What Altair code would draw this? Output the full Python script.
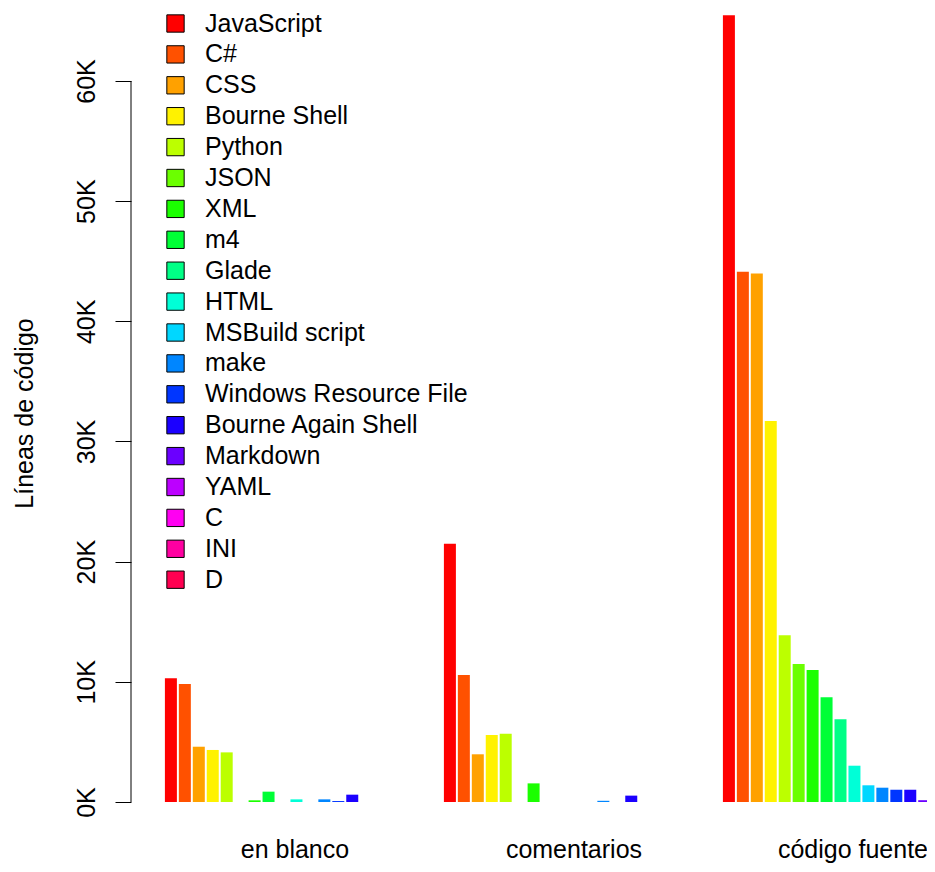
import colorsys
import altair as alt
import pandas as pd

# ---- data ----
GROUPS = ["en blanco", "comentarios", "código fuente"]
LANGS = ["JavaScript", "C#", "CSS", "Bourne Shell", "Python", "JSON", "XML", "m4",
         "Glade", "HTML", "MSBuild script", "make", "Windows Resource File",
         "Bourne Again Shell", "Markdown", "YAML", "C", "INI", "D"]
BLANK = [10290, 9820, 4600, 4330, 4130, 0, 140, 860, 0, 220, 0, 220, 80, 610, 0, 0, 0, 0, 0]
COMMENTS = [21500, 10570, 3970, 5570, 5680, 0, 1550, 0, 0, 0, 0, 100, 0, 530, 0, 0, 0, 0, 0]
CODE = [65470, 44120, 43980, 31700, 13870, 11480, 10980, 8710, 6880, 3020, 1390, 1190,
        1020, 1020, 150, 100, 40, 20, 10]
SERIES = [BLANK, COMMENTS, CODE]
AXIS_TICKS = [0, 10000, 20000, 30000, 40000, 50000, 60000]
Y_TITLE = "Líneas de código"

# R rainbow(19) palette
COLORS = ["#%02X%02X%02X" % tuple(round(c * 255) for c in colorsys.hsv_to_rgb(i / len(LANGS), 1, 1))
          for i in range(len(LANGS))]

rows = []
for g, grp in enumerate(GROUPS):
    for i, lang in enumerate(LANGS):
        rows.append({"grupo": grp, "g": g, "i": i, "lenguaje": lang, "lineas": SERIES[g][i]})
df = pd.DataFrame(rows)

n = len(LANGS)
centers = [1 + (n + 1) * g + n / 2 for g in range(len(GROUPS))]
label_expr = " : ".join(f"datum.value == {c} ? '{name}'" for c, name in zip(centers, GROUPS)) + " : ''"

FONT = "Liberation Sans"
xscale = alt.Scale(domain=[-1.36, 55.70], nice=False, zero=False)
yscale = alt.Scale(domain=[0, 65908], nice=False, zero=True)

bars = alt.Chart(df).transform_calculate(
    x0=f"1.07 + {n + 1} * datum.g + datum.i",
    x1=f"1.93 + {n + 1} * datum.g + datum.i",
).mark_rect(clip=True).encode(
    x=alt.X("x0:Q", scale=xscale,
            axis=alt.Axis(title=None, values=centers, labelExpr=label_expr, domain=False,
                          ticks=False, tickSize=0, grid=False, labelFontSize=25, labelFont=FONT,
                          labelColor="black", labelPadding=55, labelBaseline="alphabetic",
                          labelAlign="center", labelFlush=False, labelOverlap=False,
                          labelOffset=-2)),
    x2="x1:Q",
    y=alt.Y("lineas:Q", scale=yscale,
            axis=alt.Axis(title=Y_TITLE, values=AXIS_TICKS, labelExpr="datum.value / 1000 + 'K'",
                          domain=False, ticks=True, tickSize=16, tickColor="black", tickWidth=1,
                          grid=False, labelFontSize=25, labelFont=FONT, labelColor="black",
                          labelAngle=270, labelAlign="center", labelBaseline="alphabetic",
                          labelPadding=21, labelFlush=False, labelOverlap=False,
                          titleFont=FONT, titleFontSize=25, titleFontWeight="normal",
                          titleColor="black", titleAngle=270, titleAlign="center",
                          titleBaseline="alphabetic", titleX=-99, titleY=403)),
    y2=alt.datum(0),
    color=alt.Color("lenguaje:N", scale=alt.Scale(domain=LANGS, range=COLORS),
                    sort=LANGS,
                    legend=alt.Legend(title=None, orient="none", legendX=32, legendY=1,
                                      symbolType="square", symbolSize=300,
                                      symbolStrokeColor="black", symbolStrokeWidth=1,
                                      symbolOpacity=1, labelFontSize=25, labelFont=FONT,
                                      labelColor="black", labelOffset=17, rowPadding=4.9,
                                      padding=0, labelLimit=500)),
)

axis_line = alt.Chart(pd.DataFrame({"lo": [AXIS_TICKS[0]], "hi": [AXIS_TICKS[-1]]})).mark_rule(
    color="black", strokeWidth=1
).encode(
    x=alt.value(0),
    y=alt.Y("lo:Q", scale=yscale),
    y2="hi:Q",
)

chart = alt.layer(bars, axis_line).properties(
    width=796, height=792,
    autosize=alt.AutoSizeParams(type="none"),
    padding={"left": 123, "top": 2, "right": 0, "bottom": 62},
    background="white",
).configure(font=FONT).configure_view(stroke="transparent", strokeWidth=0)

chart.save("out.html", embed_options={"renderer": "svg", "actions": False})
